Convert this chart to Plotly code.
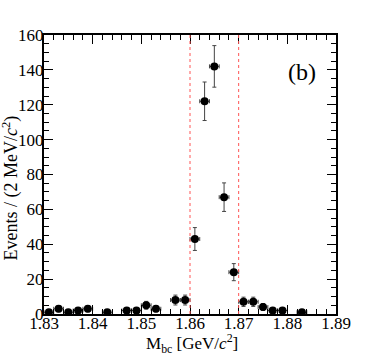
import numpy as np
import plotly.graph_objects as go

# Bin centres (GeV/c^2) and event counts
mbc = [1.831, 1.833, 1.835, 1.837, 1.839, 1.843, 1.847, 1.849, 1.851, 1.853,
       1.857, 1.859, 1.861, 1.863, 1.865, 1.867, 1.869, 1.871, 1.873, 1.875,
       1.877, 1.879, 1.883]
events = [1, 3, 1, 2, 3, 1, 2, 2, 5, 3,
          8, 8, 43, 122, 142, 67, 24, 7, 7, 4,
          2, 2, 1]
half_bin = 0.001
signal_cuts = [1.86, 1.87]

errs = np.sqrt(events)  # Poisson errors
font = "Liberation Serif"

fig = go.Figure()

# Signal window lines
for xc in signal_cuts:
    fig.add_shape(type="line", x0=xc, x1=xc, y0=0, y1=160, xref="x", yref="y",
                  line=dict(color="#ff5555", width=1, dash="dot"))

# Data points with error bars
fig.add_trace(go.Scatter(
    x=mbc, y=events, mode="markers",
    marker=dict(color="black", size=8),
    error_y=dict(type="data", array=errs, color="#444444", thickness=1, width=2),
    error_x=dict(type="constant", value=half_bin, color="#444444", thickness=1, width=2),
    showlegend=False))

fig.add_annotation(text="(b)", x=1.883, y=139, xref="x", yref="y",
                   showarrow=False, font=dict(family=font, size=24, color="black"))

# Axis titles placed as annotations
fig.add_annotation(text="M<sub>bc</sub> [GeV/<i>c</i><sup>2</sup>]",
                   x=0.507, xref="paper", y=-0.107, yref="paper",
                   xanchor="center", yanchor="middle",
                   showarrow=False, font=dict(family=font, size=17, color="black"))
fig.add_annotation(text="Events / (2 MeV/<i>c</i><sup>2</sup>)",
                   x=-0.113, xref="paper", y=0.45, yref="paper", textangle=-90,
                   xanchor="center", yanchor="middle",
                   showarrow=False, font=dict(family=font, size=18, color="black"))

axis_common = dict(showline=True, linecolor="black", linewidth=2, mirror="allticks",
                   ticks="inside", tickcolor="black", ticklen=9, tickwidth=1,
                   showgrid=False, zeroline=False, automargin=False,
                   tickfont=dict(family=font, size=17, color="black"))

fig.update_xaxes(range=[1.83, 1.89], dtick=0.01, tickformat=".2f", ticklabelstandoff=-7,
                 minor=dict(dtick=0.002, ticks="inside", ticklen=5, tickcolor="black"),
                 **axis_common)
fig.update_yaxes(range=[0, 160], dtick=20, ticklabelstandoff=-5,
                 minor=dict(dtick=5, ticks="inside", ticklen=5, tickcolor="black"),
                 **axis_common)

fig.update_layout(width=374, height=357,
                  margin=dict(l=44, r=38, t=35, b=43),
                  plot_bgcolor="white", paper_bgcolor="white")

fig.write_html("out.html", config={"displayModeBar": False},
               post_script="document.body.style.margin='0';")
